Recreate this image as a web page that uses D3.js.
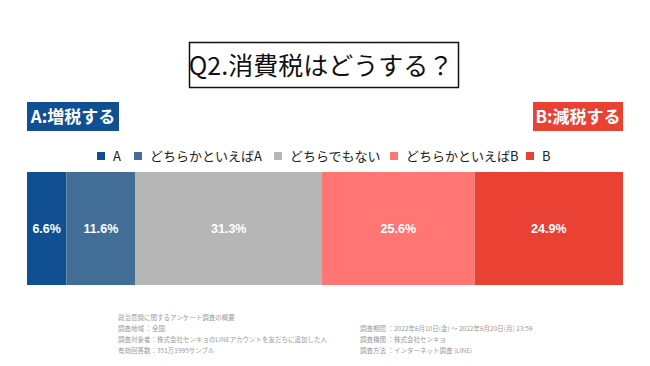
<!DOCTYPE html>
<html>
<head>
<meta charset="utf-8">
<script src="https://cdn.jsdelivr.net/npm/d3@7"></script>
<style>
  body { margin: 0; background: #fff; }
  svg { display: block; font-family: "Noto Sans CJK JP", "Liberation Sans", sans-serif; }
</style>
</head>
<body>
<svg width="650" height="366"></svg>
<script>
// 消費税アンケート Q2
const categories = ['A', 'どちらかといえばA', 'どちらでもない', 'どちらかといえばB', 'B'];
const values = [6.6, 11.6, 31.3, 25.6, 24.9];
const colors = ['#0f4f92', '#426d95', '#b6b6b6', '#ff7675', '#e94235'];
const notesLeft = [
    '政治意識に関するアンケート調査の概要',
    '調査地域 ：全国',
    '調査対象者：株式会社センキョのLINEアカウントを友だちに追加した人',
    '有効回答数：351万1995サンプル'
];
const notesRight = [
    '調査期間 ：2022年6月10日(金) 〜 2022年6月20日(月) 23:59',
    '調査機関 ：株式会社センキョ',
    '調査方法 ：インターネット調査 (LINE)'
];

const svg = d3.select('svg');

const x = d3.scaleLinear()
    .domain([0, 100])
    .range([27, 623]);

// title box
svg.append('rect')
    .attr('x', 189.5).attr('y', 42.5)
    .attr('width', 269).attr('height', 45)
    .attr('fill', 'none')
    .attr('stroke', '#111')
    .attr('stroke-width', 1.5);

svg.append('text')
    .attr('x', 321).attr('y', 75)
    .attr('text-anchor', 'middle')
    .attr('font-size', 25)
    .attr('fill', '#111')
    .text('Q2.消費税はどうする？');

// side labels
const sides = [
    {text: 'A:増税する', x0: 27, x1: 119, color: colors[0]},
    {text: 'B:減税する', x0: 533, x1: 623, color: colors[4]}
];
const side = svg.selectAll('.side')
    .data(sides).enter()
    .append('g')
    .classed('side', true);

side.append('rect')
    .attr('x', d => d.x0).attr('y', 102)
    .attr('width', d => d.x1 - d.x0).attr('height', 29)
    .attr('fill', d => d.color);

side.append('text')
    .attr('x', d => (d.x0 + d.x1) / 2).attr('y', 123)
    .attr('text-anchor', 'middle')
    .attr('font-size', 17)
    .attr('font-weight', 'bold')
    .attr('fill', '#fff')
    .text(d => d.text);

// legend
const legendX = [97, 134, 274, 390, 526];
const legend = svg.selectAll('.legend')
    .data(categories).enter()
    .append('g')
    .classed('legend', true)
    .attr('transform', (d, i) => `translate(${legendX[i]},152)`);

legend.append('rect')
    .attr('width', 8).attr('height', 8)
    .attr('fill', (d, i) => colors[i]);

legend.append('text')
    .attr('x', 16).attr('y', 8.5)
    .attr('font-size', 13)
    .attr('fill', '#222')
    .text(d => d);

// stacked bar
const stacked = values.map((v, i) => ({
    value: v,
    start: d3.sum(values.slice(0, i)),
    color: colors[i]
}));

const seg = svg.selectAll('.seg')
    .data(stacked).enter()
    .append('g')
    .classed('seg', true);

seg.append('rect')
    .attr('x', d => x(d.start))
    .attr('y', 172)
    .attr('width', d => x(d.start + d.value) - x(d.start))
    .attr('height', 113)
    .attr('fill', d => d.color);

seg.append('text')
    .attr('x', d => x(d.start + d.value / 2))
    .attr('y', 233)
    .attr('text-anchor', 'middle')
    .attr('font-family', '"Liberation Sans", Arial, sans-serif')
    .attr('font-size', 12.5)
    .attr('font-weight', 'bold')
    .attr('fill', '#fff')
    .text(d => d.value.toFixed(1) + '%');

// footnotes
svg.append('g').selectAll('text')
    .data(notesLeft).enter()
    .append('text')
    .attr('x', 118)
    .attr('y', (d, i) => 320 + i * 11)
    .attr('font-size', 6.5)
    .attr('fill', '#9a9a9a')
    .text(d => d);

svg.append('g').selectAll('text')
    .data(notesRight).enter()
    .append('text')
    .attr('x', 360)
    .attr('y', (d, i) => 331 + i * 11)
    .attr('font-size', 6.5)
    .attr('fill', '#9a9a9a')
    .text(d => d);
</script>
</body>
</html>
